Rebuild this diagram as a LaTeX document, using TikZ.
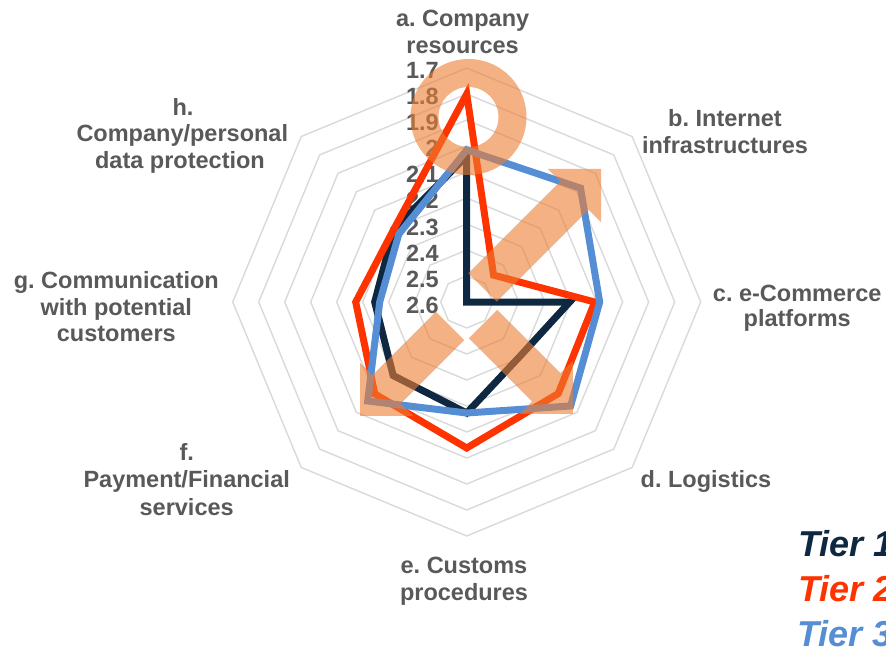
\documentclass[tikz,border=0pt]{standalone}
\usepackage{fontspec}
\setmainfont{Liberation Sans}
\frenchspacing
\definecolor{tnavy}{HTML}{0E2841}
\definecolor{tred}{HTML}{FF3300}
\definecolor{tblue}{HTML}{558ED5}
\definecolor{lblgray}{HTML}{595959}
\definecolor{gridgray}{HTML}{D9D9D9}
\definecolor{ovl}{HTML}{ED7D31}
\newcommand\cx{466.7}
\newcommand\cy{302}
\newcommand\rpt[2]{({\cx+(#2)*sin(#1)},{\cy-(#2)*cos(#1)})}
\newcommand\radarline[9]{\draw[serie,#1] \rpt{0}{#2} -- \rpt{45}{#3} -- \rpt{90}{#4} -- \rpt{135}{#5} -- \rpt{180}{#6} -- \rpt{225}{#7} -- \rpt{270}{#8} -- \rpt{315}{#9} -- cycle;}
\newcommand\ovlarrow[3]{\fill[ovlfill,shift={(#1)},rotate=#2] (0,-20) -- (#3,-20) -- (#3,-37.7) -- ({#3+37.7},0) -- (#3,37.7) -- (#3,20) -- (0,20) -- cycle;}
\begin{document}
\begin{tikzpicture}[x=1pt,y=-1pt,
  gridline/.style={draw=gridgray,line width=1.4pt},
  serie/.style={line width=7pt,line join=miter},
  numlbl/.style={font=\fontsize{23.5}{26}\selectfont\bfseries,text=lblgray,inner sep=0pt,text height=16.8pt,text depth=0pt,anchor=east},
  catlbl/.style={font=\fontsize{23.5}{26}\selectfont\bfseries,text=lblgray,inner sep=0pt,text height=16.8pt,text depth=0pt,anchor=center},
  tierlbl/.style={font=\fontsize{36}{40}\selectfont\bfseries\itshape,inner sep=0pt,anchor=base west},
  ovlfill/.style={fill=ovl,fill opacity=0.6}]
\useasboundingbox (0,0) rectangle (886,650);
% grid rings
\foreach \k in {1,...,9}{
  \draw[gridline] \rpt{0}{26*\k} -- \rpt{45}{26*\k} -- \rpt{90}{26*\k} -- \rpt{135}{26*\k} -- \rpt{180}{26*\k} -- \rpt{225}{26*\k} -- \rpt{270}{26*\k} -- \rpt{315}{26*\k} -- cycle;
}
% axis value labels
\foreach \v [count=\i from 0] in {1.7,1.8,1.9,2,2.1,2.2,2.3,2.4,2.5,2.6}{
  \node[numlbl] (v\i) at (439,{70+26.1*\i}) {\v};
}
% series
\radarline{tnavy}{146}{0}{103}{76}{111}{104}{92}{103}
\radarline{tred}{208}{38}{128}{129.5}{146}{130}{111}{103}
\radarline{tblue}{152}{161}{133}{147}{111}{140}{87}{96}
% category labels
\node[catlbl] (a1) at (462.6,18.3) {a. Company};
\node[catlbl] (a2) at (462.6,45) {resources};
\node[catlbl] (b1) at (725,118.3) {b. Internet};
\node[catlbl] (b2) at (725,145) {infrastructures};
\node[catlbl] (c1) at (797.2,293.3) {c. e-Commerce};
\node[catlbl] (c2) at (797.2,318.3) {platforms};
\node[catlbl] (d1) at (706,479.3) {d. Logistics};
\node[catlbl] (e1) at (464,565) {e. Customs};
\node[catlbl] (e2) at (464,591.7) {procedures};
\node[catlbl] (f1) at (186.7,451.7) {f.};
\node[catlbl] (f2) at (186.7,479.3) {Payment/Financial};
\node[catlbl] (f3) at (186.7,506.7) {services};
\node[catlbl] (g1) at (116.3,280) {g. Communication};
\node[catlbl] (g2) at (116.3,306.7) {with potential};
\node[catlbl] (g3) at (116.3,333.3) {customers};
\node[catlbl] (h1) at (183,106.7) {h.};
\node[catlbl] (h2) at (182.3,133.3) {Company/personal};
\node[catlbl] (h3) at (180,160) {data protection};
% legend
\node[tierlbl,text=tnavy] (t1) at (798,556.7) {Tier 1};
\node[tierlbl,text=tred] (t2) at (798,601.7) {Tier 2};
\node[tierlbl,text=tblue] (t3) at (797,646.7) {Tier 3};
% translucent orange overlay
\fill[ovlfill,even odd rule] (468.5,117) circle[radius=58] (468.5,117) circle[radius=30];
\ovlarrow{482.5,287.5}{45}{130}
\ovlarrow{450,326}{225}{89.5}
\ovlarrow{483,324}{-45}{89.5}
\end{tikzpicture}
\end{document}
